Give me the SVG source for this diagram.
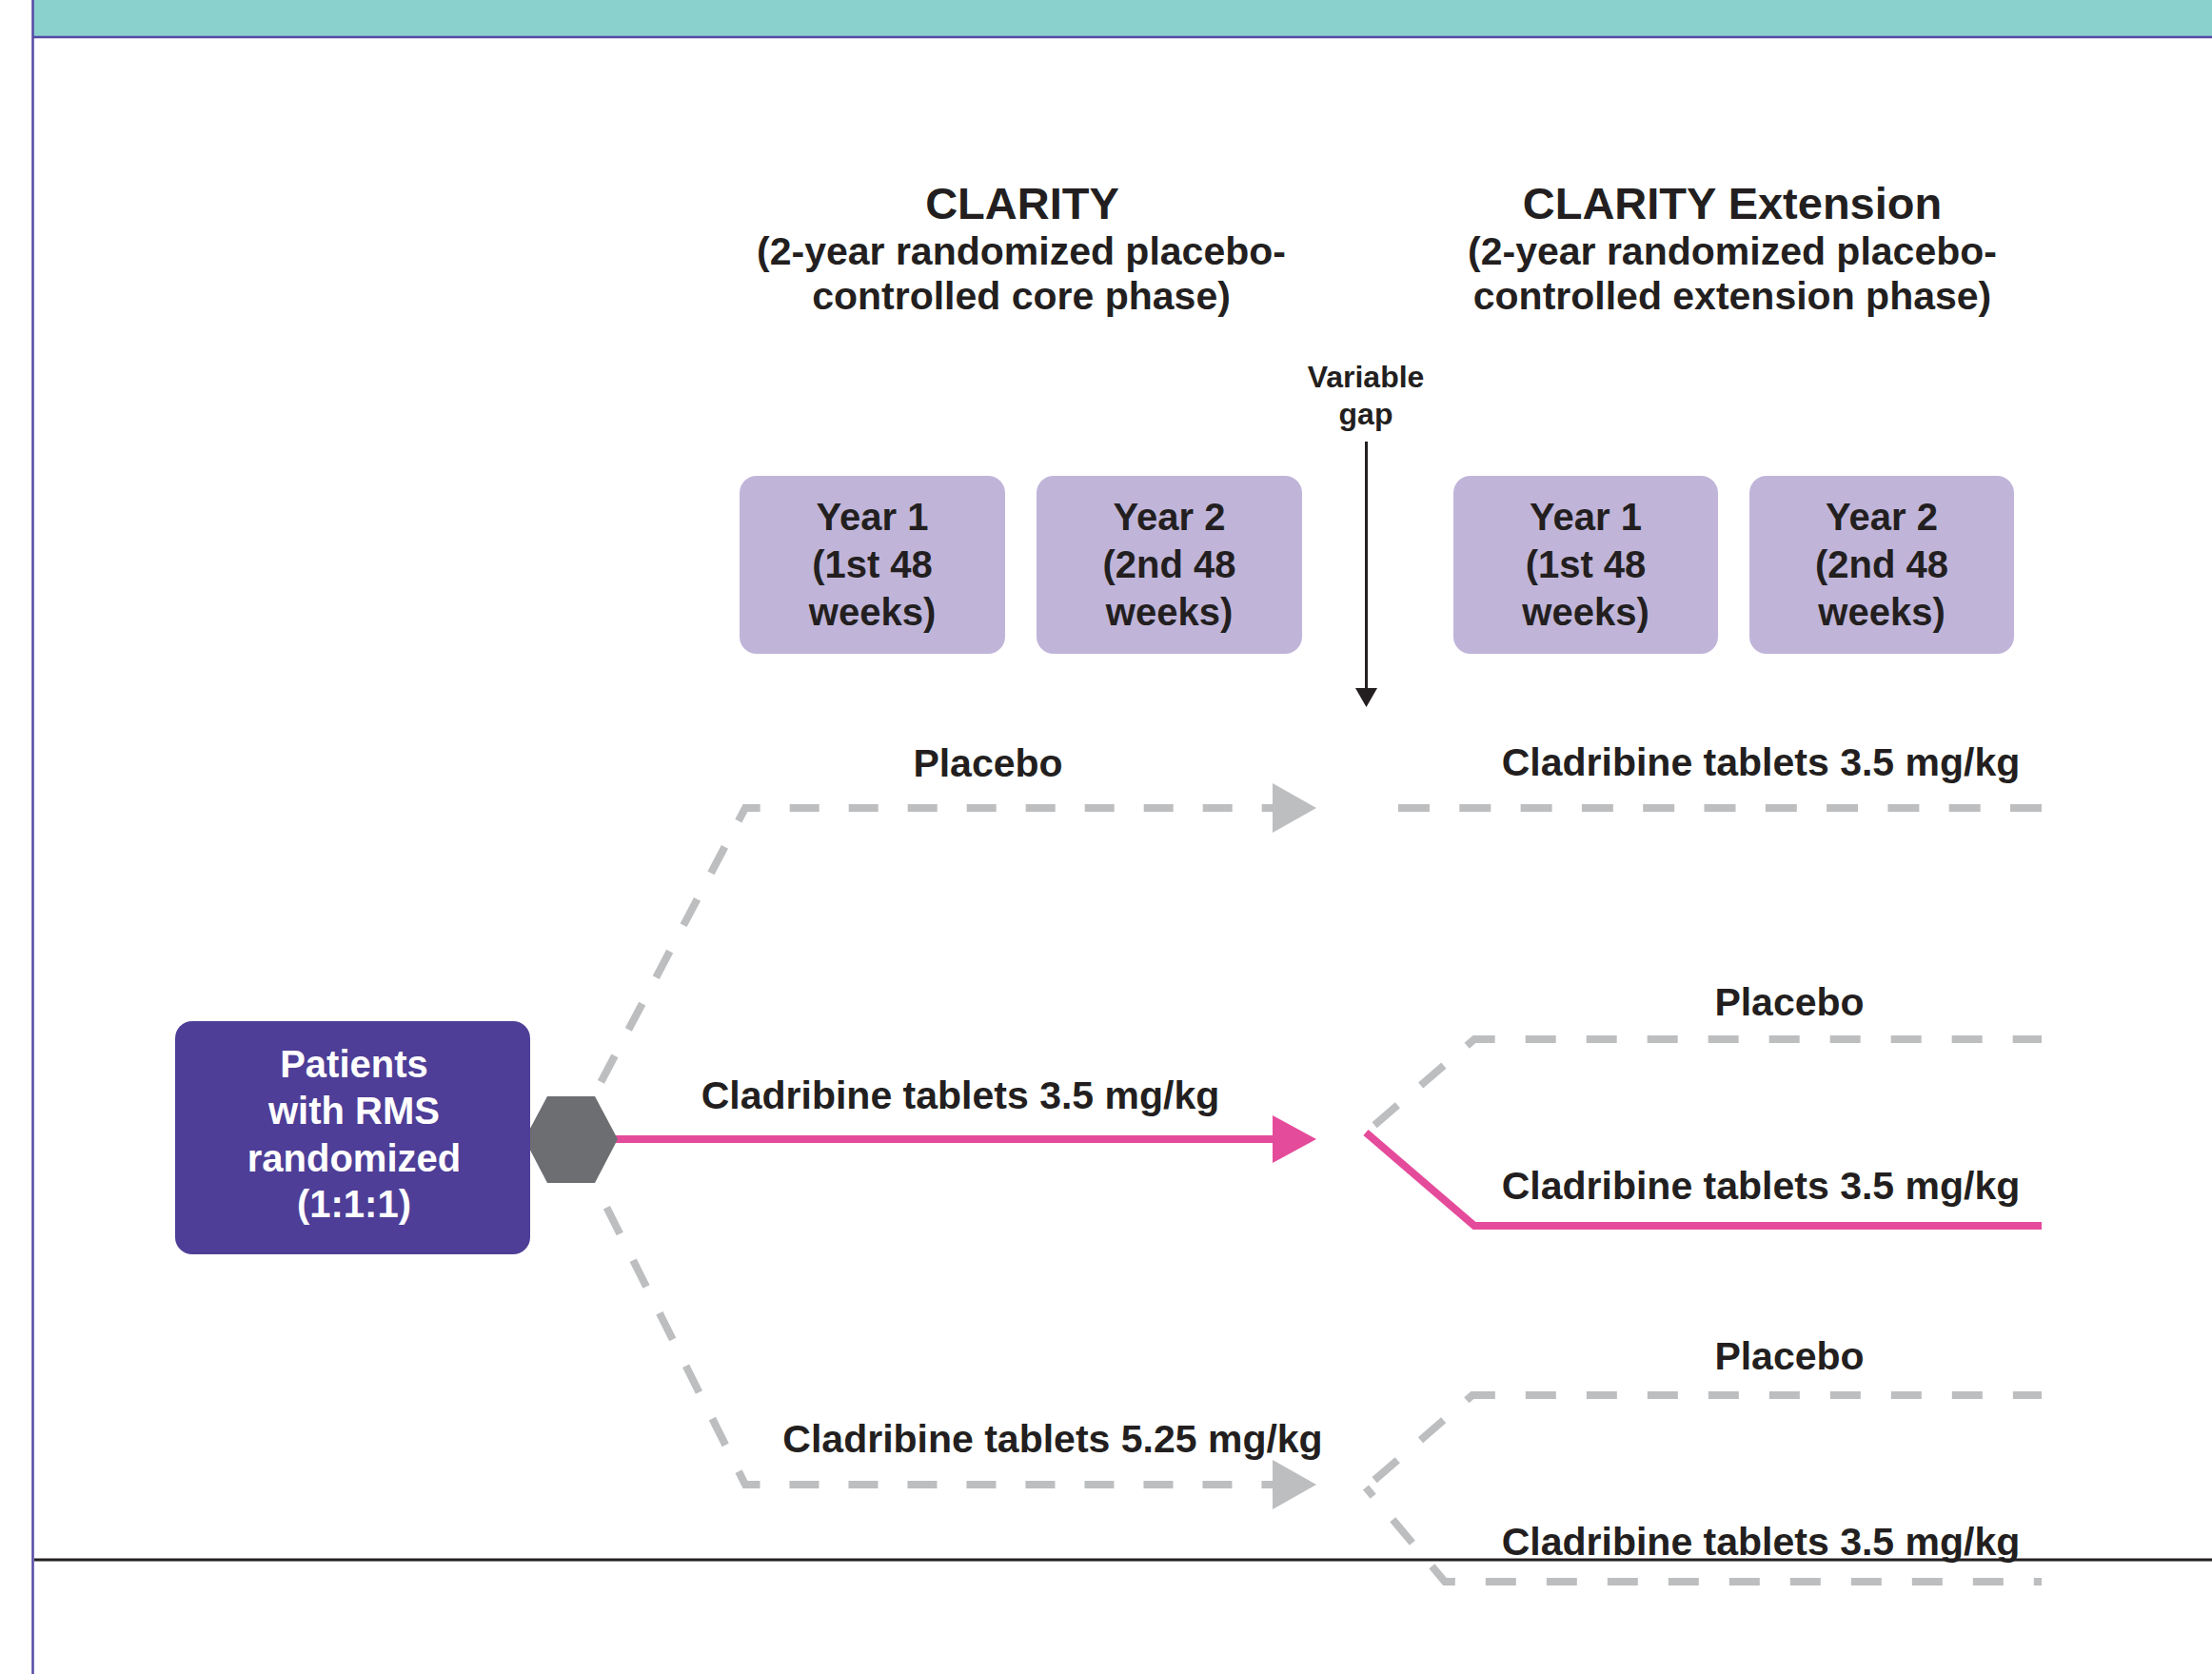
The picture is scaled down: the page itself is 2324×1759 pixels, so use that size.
<svg xmlns="http://www.w3.org/2000/svg" width="2324" height="1759" viewBox="0 0 2324 1759">
<style>
text{font-family:"Liberation Sans",Arial,Helvetica,sans-serif;font-weight:bold;fill:#231F20;text-anchor:middle}
.title{font-size:47px}
.sub{font-size:41px}
.yr{font-size:40px}
.lbl{font-size:41px}
.gap{font-size:32px}
.wt{fill:#FFFFFF;font-size:40px}
.dash{fill:none;stroke:#BCBEC0;stroke-width:8;stroke-dasharray:31 31;stroke-linejoin:miter}
.dashr{fill:none;stroke:#BCBEC0;stroke-width:8;stroke-dasharray:32 32;stroke-linejoin:miter}
.pink{fill:none;stroke:#E54B9B;stroke-width:8;stroke-linejoin:miter}
.yb{fill:#C0B5D9}
</style>
<rect x="0" y="0" width="2324" height="1759" fill="#FFFFFF"/>
<g id="frame">
<rect x="35" y="0" width="2289" height="38" fill="#8AD1CD"/>
<line x1="35" y1="39" x2="2324" y2="39" stroke="#5549A6" stroke-width="2.5"/>
<line x1="34.5" y1="0" x2="34.5" y2="1759" stroke="#5549A6" stroke-width="2.5"/>
<line x1="36" y1="1639" x2="2324" y2="1639" stroke="#231F20" stroke-width="3"/>
</g>
<g id="headers">
<text class="title" x="1074" y="230">CLARITY</text>
<text class="sub" x="1073" y="278">(2-year randomized placebo-</text>
<text class="sub" x="1073" y="325">controlled core phase)</text>
<text class="title" x="1820" y="230">CLARITY Extension</text>
<text class="sub" x="1820" y="278">(2-year randomized placebo-</text>
<text class="sub" x="1820" y="325">controlled extension phase)</text>
</g>
<g id="year1-core">
<rect class="yb" x="777" y="500" width="279" height="187" rx="18"/>
<text class="yr" x="916.5" y="557">Year 1</text>
<text class="yr" x="916.5" y="607">(1st 48</text>
<text class="yr" x="916.5" y="657">weeks)</text>
</g>
<g id="year2-core">
<rect class="yb" x="1089" y="500" width="279" height="187" rx="18"/>
<text class="yr" x="1228.5" y="557">Year 2</text>
<text class="yr" x="1228.5" y="607">(2nd 48</text>
<text class="yr" x="1228.5" y="657">weeks)</text>
</g>
<g id="year1-ext">
<rect class="yb" x="1527" y="500" width="278" height="187" rx="18"/>
<text class="yr" x="1666" y="557">Year 1</text>
<text class="yr" x="1666" y="607">(1st 48</text>
<text class="yr" x="1666" y="657">weeks)</text>
</g>
<g id="year2-ext">
<rect class="yb" x="1838" y="500" width="278" height="187" rx="18"/>
<text class="yr" x="1977" y="557">Year 2</text>
<text class="yr" x="1977" y="607">(2nd 48</text>
<text class="yr" x="1977" y="657">weeks)</text>
</g>
<g id="variable-gap">
<text class="gap" x="1435" y="407">Variable</text>
<text class="gap" x="1435" y="446">gap</text>
<line x1="1435.5" y1="464" x2="1435.5" y2="726" stroke="#231F20" stroke-width="3"/>
<polygon points="1424,723 1447,723 1435.5,743" fill="#231F20"/>
</g>
<g id="connectors">
<path class="dash" style="stroke-dashoffset:46" d="M624,1151 L783,849 L1345,849"/>
<polygon points="1337,823 1383,849 1337,875" fill="#BCBEC0"/>
<path class="dash" style="stroke-dashoffset:32" d="M624,1242 L783,1560 L1345,1560"/>
<polygon points="1337,1534 1383,1560 1337,1586" fill="#BCBEC0"/>
<path class="pink" d="M640,1197 L1345,1197"/>
<polygon points="1337,1172 1383,1197 1337,1222" fill="#E54B9B"/>
<path class="dashr" style="stroke-dasharray:33 31.3" d="M1469,849 L2145,849"/>
<path class="dashr" style="stroke-dashoffset:52" d="M1435,1190 L1549,1092 L2145,1092"/>
<path class="pink" d="M1435,1190 L1549,1288 L2145,1288"/>
<path class="dashr" style="stroke-dashoffset:52" d="M1435,1563 L1547,1466 L2145,1466"/>
<path class="dashr" style="stroke-dashoffset:20" d="M1435,1563 L1518,1662 L2145,1662"/>
</g>
<g id="hexagon">
<polygon points="551,1197 575,1152 625,1152 649,1197 625,1243 575,1243" fill="#6D6E71"/>
</g>
<g id="patients">
<rect x="184" y="1073" width="373" height="245" rx="18" fill="#4E3E97"/>
<text class="wt" x="372" y="1132">Patients</text>
<text class="wt" x="372" y="1181">with RMS</text>
<text class="wt" x="372" y="1231">randomized</text>
<text class="wt" x="372" y="1279">(1:1:1)</text>
</g>
<g id="labels">
<text class="lbl" x="1038" y="816">Placebo</text>
<text class="lbl" x="1009" y="1165">Cladribine tablets 3.5 mg/kg</text>
<text class="lbl" x="1106" y="1526">Cladribine tablets 5.25 mg/kg</text>
<text class="lbl" x="1850" y="815">Cladribine tablets 3.5 mg/kg</text>
<text class="lbl" x="1880" y="1067">Placebo</text>
<text class="lbl" x="1850" y="1260">Cladribine tablets 3.5 mg/kg</text>
<text class="lbl" x="1880" y="1439">Placebo</text>
<text class="lbl" x="1850" y="1634">Cladribine tablets 3.5 mg/kg</text>
</g>
</svg>
